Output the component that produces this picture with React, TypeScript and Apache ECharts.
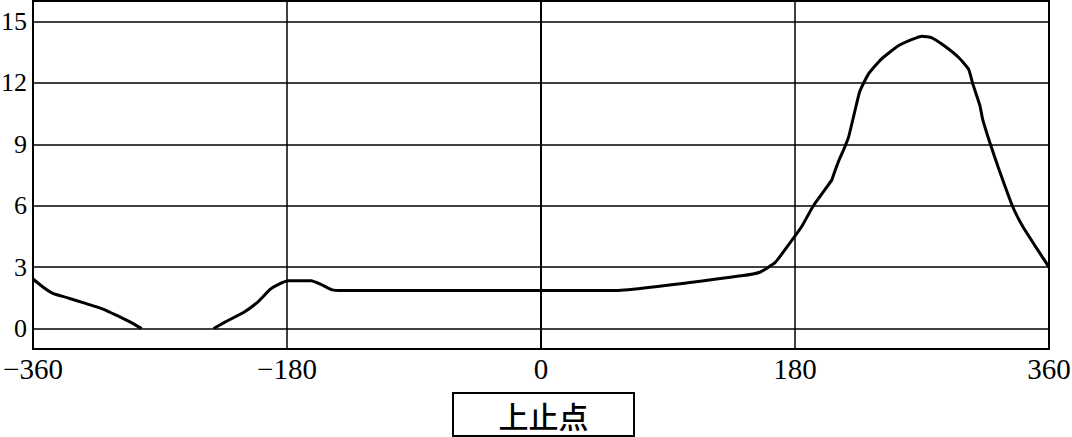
import React, { useEffect, useRef } from "react";
import * as echarts from "echarts";

// crank angle (deg) and value; null splits the curve into its two pieces
const angleDeg: number[] = [
  -360, -353, -346, -336, -324, -310, -301, -291, -283,
  -258,
  -232, -224, -210, -200, -192, -186, -179, -163, -156, -148, -141,
  53, 142, 155, 166, 175, 185, 193, 206, 208, 211, 215, 218, 222, 226, 232,
  241, 253, 263, 270, 277, 286, 296, 303, 306, 311, 313, 318, 324, 334, 341,
  350, 360,
];
const curveValue: (number | null)[] = [
  2.42, 2.03, 1.72, 1.51, 1.25, 0.94, 0.65, 0.31, 0.0,
  null,
  0.0, 0.31, 0.82, 1.34, 1.91, 2.16, 2.33, 2.33, 2.16, 1.89, 1.86,
  1.86, 2.58, 2.75, 3.23, 4.05, 5.01, 6.0, 7.25, 7.64, 8.19, 8.82, 9.36, 10.5, 11.6, 12.43,
  13.15, 13.8, 14.12, 14.28, 14.2, 13.8, 13.24, 12.67, 11.95, 10.9, 10.22, 9.1, 7.88, 6.0, 5.03,
  4.05, 3.0,
];
const yTicks: number[] = [0, 3, 6, 9, 12, 15];
const xTicks: number[] = [-360, -180, 0, 180, 360];
const legendLabel = "上止点";

export default function App() {
  const ref = useRef<HTMLDivElement>(null);
  useEffect(() => {
    if (!ref.current) return;
    const chart = echarts.init(ref.current, undefined, { renderer: "svg" });
    const data = angleDeg.map((a, i) => [a, curveValue[i]]);
    chart.setOption({
      animation: false,
      backgroundColor: "#fff",
      grid: {
        left: 33,
        right: 23,
        top: 1,
        bottom: 88,
        containLabel: false,
        outerBoundsMode: "none",
        show: true,
        borderColor: "#000",
        borderWidth: 2,
        backgroundColor: "transparent",
      },
      xAxis: {
        type: "value",
        min: xTicks[0],
        max: xTicks[xTicks.length - 1],
        interval: 180,
        axisLine: { show: true, onZero: false, lineStyle: { color: "#000", width: 2 } },
        axisTick: { show: false },
        splitLine: { show: true, lineStyle: { color: "#000", width: 1.5 } },
        axisLabel: {
          color: "#000",
          fontFamily: "Liberation Serif",
          fontSize: 29,
          margin: 5,
          hideOverlap: false,
          formatter: (v: number) => (v < 0 ? "\u2212" + Math.abs(v) : String(v)),
        },
      },
      yAxis: {
        type: "value",
        min: -1,
        max: 16,
        interval: 1,
        axisLine: { show: true, lineStyle: { color: "#000", width: 2 } },
        axisTick: { show: false },
        splitLine: { show: false },
        axisLabel: {
          color: "#000",
          fontFamily: "Liberation Serif",
          fontSize: 26,
          margin: 6,
          formatter: (v: number) => (yTicks.includes(v) ? String(v) : ""),
        },
      },
      series: [
        {
          type: "line",
          data,
          showSymbol: false,
          connectNulls: false,
          smooth: 0.15,
          lineStyle: { color: "#000", width: 3 },
          markLine: {
            silent: true,
            symbol: "none",
            label: { show: false },
            lineStyle: { color: "#000", width: 1.5, type: "solid" },
            data: yTicks.map((t) => ({ yAxis: t })),
          },
          z: 5,
        },
      ],
      graphic: [
        {
          type: "rect",
          shape: { x: 453, y: 393, width: 181, height: 43 },
          style: { fill: "#fff", stroke: "#000", lineWidth: 2 },
        },
        {
          type: "text",
          x: 543.5,
          y: 415,
          style: {
            text: legendLabel,
            fill: "#000",
            font: "500 30px 'Noto Sans CJK SC'",
            align: "center",
            verticalAlign: "middle",
          },
        },
      ],
    });
    return () => chart.dispose();
  }, []);
  return <div ref={ref} style={{ width: 1072, height: 437, position: "absolute", left: 0, top: 0 }} />;
}
